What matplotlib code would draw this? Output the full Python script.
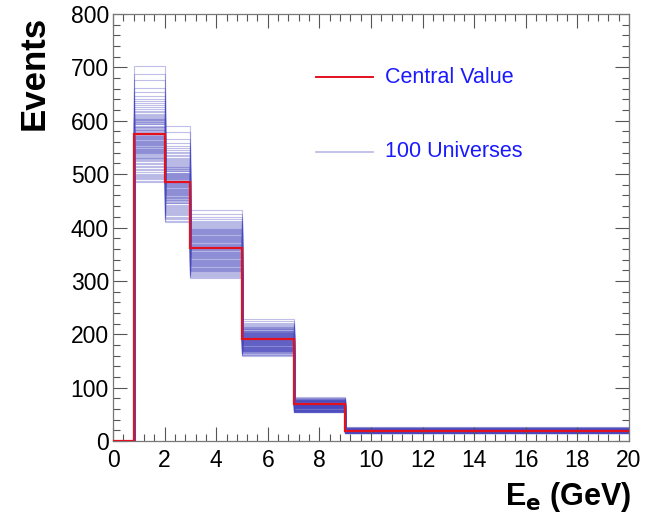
import numpy as np
import matplotlib
matplotlib.use("Agg")
import matplotlib.pyplot as plt
from matplotlib.ticker import MultipleLocator

plt.rcParams['font.family'] = ['Liberation Sans', 'DejaVu Sans']

bin_edges = [0, 0.8, 2, 3, 5, 7, 9, 20]
central_value = [0, 575, 486, 362, 191, 70, 19]

univ_bin1 = [702, 688, 676, 661, 653, 647, 641, 637, 633, 629,
             626, 622, 619, 616, 613, 611, 609, 607, 606, 604,
             603, 602, 601, 600, 598, 597, 596, 594, 593, 591,
             589, 588, 586, 585, 583, 582, 581, 579, 578, 577,
             576, 575, 573, 572, 571, 570, 569, 568, 567, 566,
             565, 564, 563, 562, 561, 560, 559, 558, 557, 556,
             555, 554, 552, 551, 550, 549, 548, 547, 546, 545,
             544, 543, 542, 541, 540, 539, 537, 536, 534, 533,
             531, 530, 528, 526, 524, 521, 519, 516, 513, 510,
             507, 504, 501, 498, 496, 494, 492, 490, 488, 486]
univ_bin2 = [591, 579, 566, 559, 553, 549, 545, 542, 539, 536,
             534, 531, 529, 527, 525, 523, 521, 519, 517, 516,
             514, 513, 511, 510, 509, 507, 506, 505, 503, 502,
             501, 500, 499, 498, 497, 496, 495, 494, 493, 492,
             491, 490, 489, 488, 487, 486, 485, 484, 483, 482,
             481, 480, 479, 478, 477, 476, 475, 474, 473, 472,
             471, 470, 469, 468, 467, 466, 465, 464, 463, 462,
             461, 460, 459, 458, 457, 456, 455, 454, 452, 451,
             449, 448, 446, 445, 443, 441, 439, 437, 435, 433,
             431, 429, 427, 425, 423, 420, 418, 415, 413, 410]
univ_bin3 = [433, 425, 419, 415, 412, 410, 408, 406, 404, 402,
             401, 399, 398, 397, 396, 395, 394, 393, 392, 391,
             390, 389, 388, 387, 386, 385, 384, 383, 382, 381,
             380, 379, 378, 377, 376, 375, 374, 373, 372, 371,
             370, 369, 368, 367, 366, 365, 364, 363, 362, 361,
             360, 359, 358, 357, 356, 355, 354, 353, 352, 351,
             350, 349, 348, 347, 346, 345, 344, 343, 342, 341,
             340, 339, 338, 337, 336, 335, 334, 333, 332, 331,
             330, 329, 328, 327, 326, 325, 324, 323, 322, 321,
             320, 319, 318, 317, 315, 313, 311, 309, 307, 305]
univ_bin4 = [228, 224, 221, 219, 217, 215, 214, 213, 212, 211,
             210, 209, 209, 208, 207, 207, 206, 205, 205, 204,
             203, 203, 202, 202, 201, 201, 200, 200, 199, 199,
             198, 198, 197, 197, 196, 196, 195, 195, 194, 194,
             193, 193, 192, 192, 191, 191, 190, 190, 189, 189,
             188, 188, 187, 187, 186, 186, 185, 185, 184, 184,
             183, 183, 182, 182, 181, 181, 180, 180, 179, 179,
             178, 178, 177, 177, 176, 176, 175, 175, 174, 174,
             173, 173, 172, 172, 171, 171, 170, 170, 169, 169,
             168, 168, 167, 166, 165, 164, 163, 162, 161, 160]
univ_bin5 = [83, 81, 80, 79, 78, 78, 77, 77, 76, 76,
             76, 75, 75, 75, 74, 74, 74, 74, 73, 73,
             73, 73, 72, 72, 72, 72, 72, 71, 71, 71,
             71, 71, 71, 70, 70, 70, 70, 70, 70, 70,
             69, 69, 69, 69, 69, 69, 68, 68, 68, 68,
             68, 68, 67, 67, 67, 67, 67, 66, 66, 66,
             66, 66, 65, 65, 65, 65, 64, 64, 64, 64,
             63, 63, 63, 63, 62, 62, 62, 61, 61, 61,
             60, 60, 60, 59, 59, 59, 58, 58, 58, 57,
             57, 57, 56, 56, 56, 55, 55, 55, 55, 55]
univ_bin6 = [27, 26, 25, 25, 24, 24, 24, 23, 23, 23,
             23, 22.5, 22.5, 22, 22, 22, 22, 22, 21.5, 21.5,
             21.5, 21.5, 21, 21, 21, 21, 21, 21, 21, 20.5,
             20.5, 20.5, 20.5, 20.5, 20.5, 20.5, 20, 20, 20, 20,
             20, 20, 20, 20, 20, 19.5, 19.5, 19.5, 19.5, 19.5,
             19.5, 19.5, 19, 19, 19, 19, 19, 19, 19, 18.5,
             18.5, 18.5, 18.5, 18.5, 18.5, 18, 18, 18, 18, 18,
             18, 17.5, 17.5, 17.5, 17.5, 17.5, 17, 17, 17, 17,
             17, 16.5, 16.5, 16.5, 16.5, 16, 16, 16, 16, 16,
             15.5, 15.5, 15.5, 15.5, 15, 15, 15, 15, 15, 15]

legend_labels = ["Central Value", "100 Universes"]
xlabel = "E$_{\\mathbf{e}}$ (GeV)"
ylabel = "Events"

fig = plt.figure(figsize=(6.54, 5.23), dpi=100)
ax = fig.add_axes([0.1728, 0.1568, 0.789, 0.8164])

univ = np.column_stack([np.zeros(len(univ_bin1)), univ_bin1, univ_bin2,
                        univ_bin3, univ_bin4, univ_bin5, univ_bin6])
for row in univ:
    ax.stairs(row, bin_edges, color='#4848c0', alpha=0.35, lw=0.8, baseline=None)

ax.stairs(central_value, bin_edges, color='#e3101e', lw=1.6, baseline=None, zorder=5)

ax.set_xlim(0, 20)
ax.set_ylim(0, 800)
ax.xaxis.set_major_locator(MultipleLocator(2))
ax.xaxis.set_minor_locator(MultipleLocator(0.4))
ax.yaxis.set_major_locator(MultipleLocator(100))
ax.yaxis.set_minor_locator(MultipleLocator(20))
ax.tick_params(which='both', direction='in', top=True, right=True,
               labelsize=16.5, colors='#555555', labelcolor='black', width=0.8)
ax.tick_params(which='major', length=10)
ax.tick_params(which='minor', length=5)
ax.tick_params(axis='x', which='major', pad=6)
ax.tick_params(axis='y', which='major', pad=3)
for s in ax.spines.values():
    s.set_color('#777777')
    s.set_linewidth(0.9)

fig.text(0.052, 0.97, ylabel, rotation=90, ha='center', va='top',
         fontsize=25, fontweight='bold')
fig.text(0.965, 0.05, xlabel, ha='right', va='center',
         fontsize=22, fontweight='bold')

# legend
ax.plot([0.393, 0.503], [0.852, 0.852], transform=ax.transAxes,
        color='#e3101e', lw=1.4)
ax.plot([0.393, 0.503], [0.677, 0.677], transform=ax.transAxes,
        color='#b8b8e8', lw=1.2)
ax.text(0.527, 0.852, legend_labels[0], transform=ax.transAxes,
        color='#1a1aff', fontsize=15.5, va='center', ha='left')
ax.text(0.527, 0.677, legend_labels[1], transform=ax.transAxes,
        color='#1a1aff', fontsize=15.5, va='center', ha='left')

fig.savefig("out.png", dpi=100)
